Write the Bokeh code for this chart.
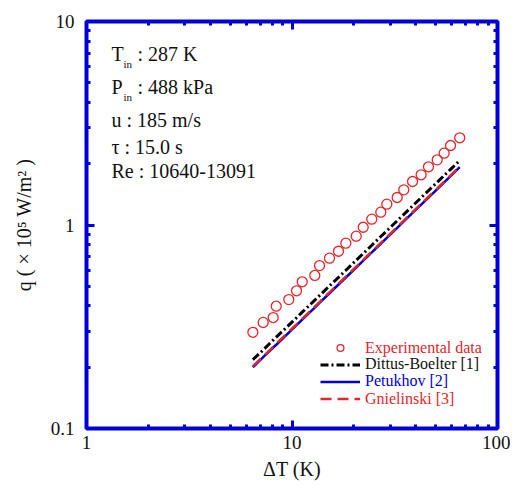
from bokeh.plotting import figure
from bokeh.models import (FixedTicker, CustomJSTickFormatter, LogAxis, Legend,
                          LegendItem, Label)
from bokeh.embed import file_html
from bokeh.resources import INLINE

# ---- data ----
dT = [6.45, 7.24, 8.10, 8.38, 9.65, 10.52, 11.21, 12.91, 13.61, 15.22, 16.84,
      18.28, 20.53, 22.21, 24.45, 27.05, 28.93, 32.50, 35.0, 38.6, 42.5, 46.15,
      50.9, 55.0, 59.1, 65.5]
q_exp = [0.297, 0.332, 0.351, 0.399, 0.430, 0.475, 0.526, 0.565, 0.632, 0.687,
         0.743, 0.814, 0.881, 0.975, 1.068, 1.156, 1.266, 1.365, 1.489, 1.636,
         1.765, 1.932, 2.091, 2.254, 2.459, 2.683]
q_db = [0.218, 0.243, 0.272, 0.281, 0.322, 0.350, 0.373, 0.427, 0.450, 0.502,
        0.553, 0.599, 0.671, 0.724, 0.795, 0.878, 0.937, 1.049, 1.128, 1.241,
        1.362, 1.476, 1.623, 1.751, 1.877, 2.075]
q_pet = [0.200, 0.224, 0.250, 0.258, 0.296, 0.322, 0.343, 0.393, 0.414, 0.462,
         0.510, 0.552, 0.618, 0.668, 0.733, 0.809, 0.864, 0.968, 1.041, 1.146,
         1.258, 1.364, 1.500, 1.619, 1.737, 1.923]
q_gni = [0.202, 0.226, 0.252, 0.261, 0.299, 0.325, 0.346, 0.397, 0.418, 0.467,
         0.515, 0.557, 0.624, 0.674, 0.740, 0.817, 0.872, 0.977, 1.051, 1.157,
         1.270, 1.377, 1.514, 1.634, 1.753, 1.940]

x_major = [1, 10, 100]
x_minor = [2, 3, 4, 5, 6, 7, 8, 9, 20, 30, 40, 50, 60, 70, 80, 90]
y_major = [0.1, 1, 10]
y_minor = [0.2, 0.3, 0.4, 0.5, 0.6, 0.7, 0.8, 0.9, 2, 3, 4, 5, 6, 7, 8, 9]

labels = ["Experimental data", "Dittus-Boelter [1]", "Petukhov [2]", "Gnielinski [3]"]

BLUE = "#0000d8"
RED = "#e5262a"
FONT = "Liberation Serif"

p = figure(frame_width=411, frame_height=407, x_axis_type="log", y_axis_type="log",
           x_range=(1, 100), y_range=(0.1, 10), output_backend="svg",
           toolbar_location=None, min_border_left=86, min_border_right=13,
           min_border_top=21, min_border_bottom=58)
p.grid.visible = False
p.outline_line_color = BLUE
p.outline_line_width = 4
p.background_fill_color = "white"
p.border_fill_color = "white"

fmt = CustomJSTickFormatter(code="return tick.toString();")
blank = CustomJSTickFormatter(code="return '';")

def style_axis(ax, show_labels):
    ax.axis_line_color = BLUE
    ax.axis_line_width = 3
    ax.major_tick_line_color = BLUE
    ax.minor_tick_line_color = BLUE
    ax.major_tick_line_width = 3
    ax.minor_tick_line_width = 3
    ax.major_tick_in = 8
    ax.major_tick_out = 0
    ax.minor_tick_in = 4
    ax.minor_tick_out = 0
    if show_labels:
        ax.formatter = fmt
        ax.major_label_text_font = FONT
        ax.major_label_text_font_size = "19px"
        ax.major_label_text_color = "#111111"
        ax.axis_label_text_font = FONT
        ax.axis_label_text_font_size = "20px"
        ax.axis_label_text_font_style = "normal"
        ax.axis_label_text_color = "#111111"
    else:
        ax.formatter = blank
        ax.major_label_standoff = 0

xa = p.xaxis[0]
ya = p.yaxis[0]
xa.ticker = FixedTicker(ticks=x_major, minor_ticks=x_minor)
ya.ticker = FixedTicker(ticks=y_major, minor_ticks=y_minor)
style_axis(xa, True)
style_axis(ya, True)
xa.axis_label = "\u0394T (K)"
ya.axis_label = "q ( \u00d7 10\u2075 W/m\u00b2 )"
xa.major_label_standoff = 7
xa.axis_label_standoff = 6
ya.major_label_standoff = 12
ya.axis_label_standoff = 13

top = LogAxis(ticker=FixedTicker(ticks=x_major, minor_ticks=x_minor))
right = LogAxis(ticker=FixedTicker(ticks=y_major, minor_ticks=y_minor))
style_axis(top, False)
style_axis(right, False)
p.add_layout(top, "above")
p.add_layout(right, "right")

r_exp = p.scatter(dT, q_exp, marker="circle", size=10, fill_color=None,
                  line_color=RED, line_width=1.3)
r_db = p.line(dT, q_db, line_color="black", line_width=3, line_dash="8 3 2 3")
r_pet = p.line(dT, q_pet, line_color=BLUE, line_width=2.5)
r_gni = p.line(dT, q_gni, line_color=RED, line_width=2.5, line_dash="11 6")

renderers = [r_exp, r_db, r_pet, r_gni]
label_colors = [RED, "#111111", BLUE, RED]
legend_y = [71.5, 55.0, 37.8, 20.5]
for lab, rr, col, ly in zip(labels, renderers, label_colors, legend_y):
    lg = Legend(items=[LegendItem(label=lab, renderers=[rr])], location=(234, ly),
                label_text_font=FONT, label_text_font_size="16px",
                label_text_color=col, glyph_width=40, glyph_height=17,
                label_height=17, label_standoff=5, padding=0, margin=0,
                spacing=0, border_line_color=None, background_fill_alpha=0)
    p.add_layout(lg, "center")

# ---- annotation block ----
def txt(x, y, s, size="20px"):
    p.add_layout(Label(x=x, y=y, x_units="screen", y_units="screen", text=s,
                       text_font=FONT, text_font_size=size, text_color="#111111",
                       text_baseline="alphabetic"))

txt(25, 375, "T")
txt(37, 365, "in", "11px")
txt(51, 375, ": 287 K")
txt(25, 342, "P")
txt(37, 331.5, "in", "11px")
txt(51, 342, ": 488 kPa")
txt(25, 309, "u : 185 m/s")
txt(25, 282, "\u03c4 : 15.0 s")
txt(25, 258, "Re : 10640-13091")

open("out.html", "w").write(file_html(p, INLINE))
